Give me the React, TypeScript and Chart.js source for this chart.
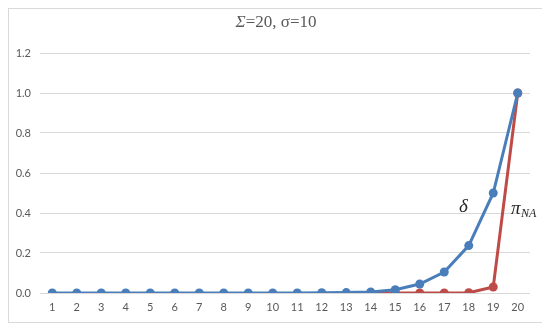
import React, { useEffect, useRef } from "react";
import { Chart, registerables } from "chart.js";

Chart.register(...registerables);

const categories = ["1","2","3","4","5","6","7","8","9","10","11","12","13","14","15","16","17","18","19","20"];
const deltaValues = [0,0,0,0,0,0,0,0,0,0,0,0.001,0.002,0.005,0.016,0.045,0.105,0.237,0.5,1.0];
const piValues = [null,null,null,null,null,null,null,null,null,null,null,null,null,0,0,0,0,0.001,0.03,1.0];
const yTicks = [0, 0.2, 0.4, 0.6, 0.8, 1.0, 1.2];

const annotPlugin = {
  id: "annot",
  afterDraw(chart: any) {
    const ctx = chart.ctx;
    const x = chart.scales.x;
    const y = chart.scales.y;
    ctx.save();
    const cx = chart.width / 2;
    const serif = "'Liberation Serif', 'DejaVu Serif', serif";
    ctx.font = `italic 17px ${serif}`;
    const s1 = "Σ";
    const w1 = ctx.measureText(s1).width;
    ctx.font = `17px ${serif}`;
    const s2 = "=20, σ=10";
    const w2 = ctx.measureText(s2).width;
    const start = cx - (w1 + w2) / 2;
    ctx.textBaseline = "alphabetic";
    ctx.textAlign = "left";
    ctx.fillStyle = "#595959";
    ctx.font = `italic 17px ${serif}`;
    ctx.fillText(s1, start, 18);
    ctx.font = `17px ${serif}`;
    ctx.fillText(s2, start + w1, 18);
    ctx.fillStyle = "#262626";
    ctx.font = `italic 19px ${serif}`;
    ctx.textAlign = "center";
    ctx.textBaseline = "middle";
    ctx.fillText("δ", x.getPixelForValue(16.78), y.getPixelForValue(0.43));
    ctx.textAlign = "left";
    ctx.textBaseline = "alphabetic";
    const px = x.getPixelForValue(18.72);
    const py = y.getPixelForValue(0.395);
    ctx.font = `italic 19px ${serif}`;
    ctx.fillText("π", px, py);
    const pw = ctx.measureText("π").width;
    ctx.font = `italic 12px ${serif}`;
    ctx.fillText("NA", px + pw + 0.5, py + 3);
    ctx.restore();
  },
};

export default function App() {
  const ref = useRef<HTMLCanvasElement>(null);
  useEffect(() => {
    if (!ref.current) return;
    const tickFont = { family: "Lato, 'Open Sans', sans-serif", size: 11 };
    const chart = new Chart(ref.current, {
      type: "line",
      data: {
        labels: categories,
        datasets: [
          {
            data: deltaValues,
            borderColor: "#4A7EBB",
            backgroundColor: "#4A7EBB",
            borderWidth: 3,
            pointRadius: 4.5,
            pointBorderWidth: 0,
            tension: 0,
          },
          {
            data: piValues as any,
            borderColor: "#BE4B48",
            backgroundColor: "#BE4B48",
            borderWidth: 3,
            pointRadius: 4.5,
            pointBorderWidth: 0,
            tension: 0,
          },
        ],
      },
      options: {
        responsive: false,
        animation: false,
        layout: { padding: { top: 44, right: 13, left: 0, bottom: 0 } },
        plugins: { legend: { display: false }, tooltip: { enabled: false }, title: { display: false } },
        scales: {
          x: {
            offset: true,
            grid: { display: false, drawTicks: false },
            border: { display: false },
            ticks: { color: "#595959", font: tickFont, padding: 8, autoSkip: false, maxRotation: 0 },
            afterFit: (s: any) => { s.height = 29; },
          },
          y: {
            min: 0,
            max: 1.2,
            afterBuildTicks: (s: any) => { s.ticks = yTicks.map((v) => ({ value: v })); },
            grid: { color: "#D9D9D9", drawTicks: false, lineWidth: 1 },
            border: { display: false },
            ticks: { color: "#595959", font: tickFont, padding: 9, callback: (v: any) => Number(v).toFixed(1) },
            afterFit: (s: any) => { s.width = 31; },
          },
        },
      },
      plugins: [annotPlugin],
    });
    return () => chart.destroy();
  }, []);
  return (
    <div style={{ width: 534, height: 313, border: "1px solid #D9D9D9" }}>
      <canvas ref={ref} width={534} height={313} />
    </div>
  );
}
